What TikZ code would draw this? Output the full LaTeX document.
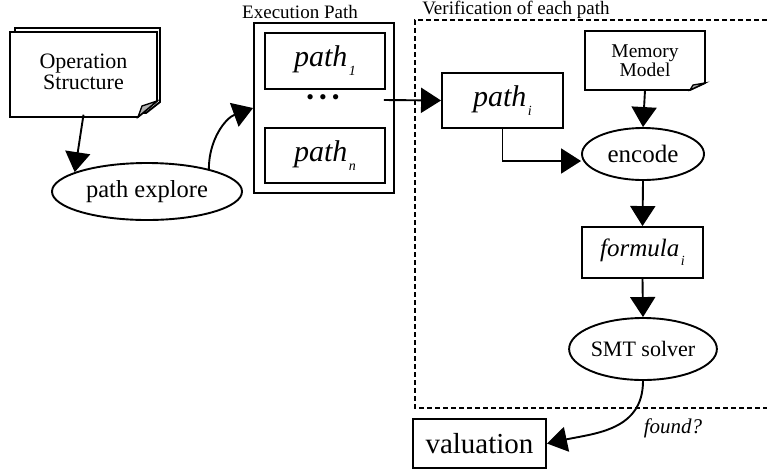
\documentclass[tikz,border=0pt]{standalone}
\usepackage{fontspec}
\setmainfont{Liberation Serif}
\usetikzlibrary{arrows.meta,shapes.geometric}
\tikzset{
  lw/.style={line width=1.9pt},
  box/.style={draw, lw, rectangle, inner sep=0pt},
  oval/.style={draw, lw, ellipse, inner sep=0pt},
  plain/.style={inner sep=0pt, align=center},
  arr/.style={lw, -{Triangle[length=20pt,width=25pt]}},
  fs/.style={font=\fontsize{#1}{#1}\selectfont},
  cluster/.style={line width=1.7pt, dash pattern=on 5pt off 3pt},
  fold/.style={line width=1.3pt, fill=gray!60}
}
\newcommand{\sub}[2]{#1\hspace{1.5pt}\raisebox{-9pt}{\fontsize{14}{14}\selectfont #2}}
\begin{document}
\begin{tikzpicture}[x=1pt,y=-1pt]
\useasboundingbox (0,0) rectangle (767,475);
% Operation Structure (stacked note)
\draw[lw, fill=white] (15,28) -- (160,28) -- (160,102) -- (146,113) -- (15,113) -- cycle;
\draw[lw, fill=white] (10,32) -- (157,32) -- (157,101) -- (138,117) -- (10,117) -- cycle;
\draw[fold] (138,117) -- (142,106) -- (157,101) -- cycle;
\node[plain, fs=22, minimum width=147pt, minimum height=85pt] (os) at (83.5,72) {Operation\\[-1pt]Structure};
% path explore
\node[oval, fs=24.5, minimum width=190pt, minimum height=57pt] (pe) at (147,191.5) {path explore};
% Execution path group
\node[plain, fs=19] (execlabel) at (300,12) {Execution Path};
\node[box, minimum width=140pt, minimum height=170pt] (exec) at (324,108) {};
\node[box, fs=30, minimum width=120pt, minimum height=56pt] (p1) at (325,61) {\itshape\sub{path}{1}};
\node[plain, fs=22] (dots) at (323,100) {\textbullet\hspace{5pt}\textbullet\hspace{5pt}\textbullet};
\node[box, fs=30, minimum width=120pt, minimum height=55pt] (pn) at (325,155.5) {\itshape\sub{path}{n}};
% Verification cluster
\draw[cluster] (767,20) -- (415,20) -- (415,408) -- (767,408);
\node[plain, fs=19] (verlabel) at (516,10) {Verification of each path};
\node[box, fs=30, minimum width=121pt, minimum height=55pt] (pathi) at (502.5,100.5) {\itshape\sub{path}{i}};
% Memory Model note
\draw[lw, fill=white] (585,31) -- (705,31) -- (705,83) -- (690,90) -- (585,90) -- cycle;
\draw[fold] (690,90) -- (693,85) -- (705,83) -- cycle;
\node[plain, fs=19.5, minimum width=120pt, minimum height=59pt] (mem) at (645,60.5) {Memory\\Model};
\node[oval, fs=25, minimum width=122pt, minimum height=52pt] (enc) at (643,154) {encode};
\node[box, fs=25, minimum width=121pt, minimum height=51pt] (form) at (642.5,252.5) {\itshape\sub{formula}{i}};
\node[oval, fs=22, minimum width=120pt, minimum height=62pt] (smt) at (643,349) {SMT solver};
\node[box, fs=29, minimum width=133pt, minimum height=49pt] (val) at (479.5,443.5) {valuation};
\node[plain, fs=21] (found) at (673,428) {\itshape found?};
% connectors
\draw[arr] (os.south) -- (pe.165);
\draw[arr] (pe.20) to[out=90,in=200] (exec.west);
\draw[arr] ([xshift=-11pt,yshift=8pt]exec.east) -- (pathi.west);
\draw[arr] (pathi.south) |- ([yshift=-7pt]enc.west);
\draw[arr] (mem.south) -- (enc.north);
\draw[arr] (enc.south) -- (form.north);
\draw[arr] (form.south) -- (smt.north);
\draw[arr] (smt.south) to[out=-90,in=12,looseness=1.1] (val.east);
\end{tikzpicture}
\end{document}
